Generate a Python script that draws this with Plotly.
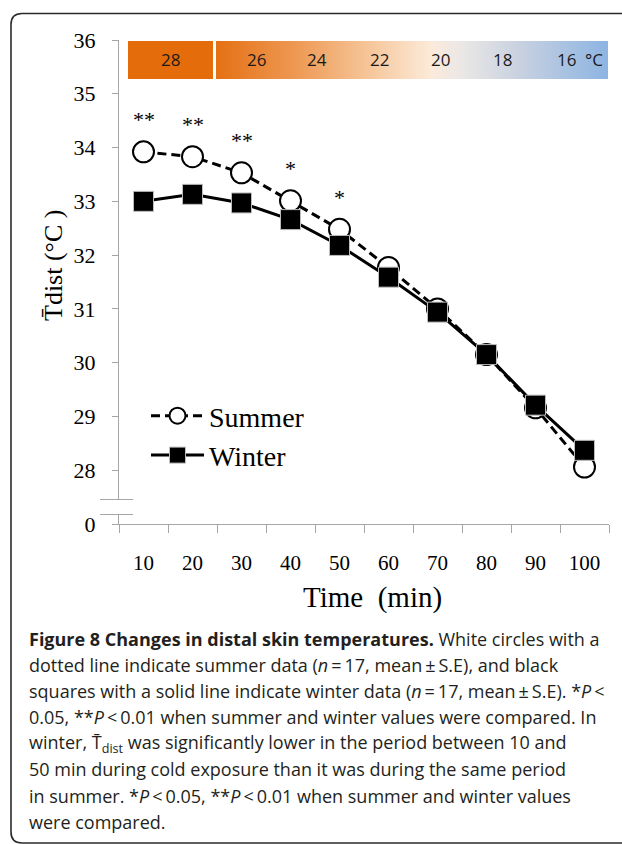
import plotly.graph_objects as go

# ---- data -------------------------------------------------------------
time_min = [10, 20, 30, 40, 50, 60, 70, 80, 90, 100]
summer = [33.92, 33.83, 33.53, 33.01, 32.48, 31.77, 31.00, 30.15, 29.16, 28.06]
winter = [33.00, 33.13, 32.97, 32.66, 32.18, 31.59, 30.94, 30.15, 29.21, 28.37]
significance = ["**", "**", "**", "*", "*", "", "", "", "", ""]

y_tickvals = [27, 28, 29, 30, 31, 32, 33, 34, 35, 36]
y_ticktext = ["0", "28", "29", "30", "31", "32", "33", "34", "35", "36"]

room_temps = ["28", "26", "24", "22", "20", "18", "16"]

caption_lines = [
    "<b>Figure 8 Changes in distal skin temperatures.</b> White circles with a",
    "dotted line indicate summer data (<i>n</i>\u2009=\u200917, mean\u2009\u00b1\u2009S.E), and black",
    "squares with a solid line indicate winter data (<i>n</i>\u2009=\u200917, mean\u2009\u00b1\u2009S.E). *<i>P</i>\u2009<",
    "0.05, **<i>P</i>\u2009<\u20090.01 when summer and winter values were compared. In",
    "winter, T\u0304<sub>dist</sub> was significantly lower in the period between 10 and",
    "50 min during cold exposure than it was during the same period",
    "in summer. *<i>P</i>\u2009<\u20090.05, **<i>P</i>\u2009<\u20090.01 when summer and winter values",
    "were compared.",
]

# ---- page geometry (pixels) -------------------------------------------
W, H = 622, 844
ML, MR, MT, MB = 119, 13, 40, 320
PW, PH = W - ML - MR, H - MT - MB


def px(x):
    return (x - ML) / PW


def py(y):
    return (H - MB - y) / PH


SERIF = "Liberation Serif"
SANS = "Open Sans"
AXIS_GREY = "#a6a6a6"

fig = go.Figure()

fig.add_trace(go.Scatter(
    x=time_min, y=summer, name="Summer", mode="lines+markers",
    line=dict(color="black", width=3, dash="9px,5px"),
    marker=dict(symbol="circle", size=21, color="white",
                line=dict(color="black", width=2)),
    legendgroup="s",
))
fig.add_trace(go.Scatter(
    x=time_min, y=winter, name="Winter", mode="lines+markers",
    line=dict(color="black", width=3),
    marker=dict(symbol="square", size=20, color="black",
                line=dict(color="#bdbdbd", width=1)),
    legendgroup="w",
))

annotations = []


def paper_text(xp, yp, text, font, **kw):
    d = dict(x=px(xp), y=py(yp), xref="paper", yref="paper", text=text,
             showarrow=False, xanchor="center", yanchor="middle", font=font)
    d.update(kw)
    return d


# significance marks above the summer points
for t, v, s in zip(time_min, summer, significance):
    if s:
        annotations.append(dict(
            x=t, y=v, xref="x", yref="y", text=s, showarrow=False,
            xanchor="center", yanchor="middle",
            yshift=32, font=dict(family=SERIF, size=22, color="black"),
        ))

# ambient temperature band across the top
shapes = []
shapes.append(dict(type="rect", xref="paper", yref="paper",
                   x0=px(128), x1=px(213), y0=py(79), y1=py(41),
                   fillcolor="#e46c0a", line=dict(width=0), layer="above"))

grad_stops = [
    (0.00, (229, 112, 20)),
    (0.20, (238, 152, 82)),
    (0.42, (247, 205, 165)),
    (0.55, (252, 234, 218)),
    (0.63, (234, 231, 230)),
    (0.76, (204, 211, 224)),
    (1.00, (141, 180, 226)),
]


def grad_color(f):
    for (f0, c0), (f1, c1) in zip(grad_stops[:-1], grad_stops[1:]):
        if f <= f1:
            u = (f - f0) / (f1 - f0)
            return "rgb(%d,%d,%d)" % tuple(round(a + (b - a) * u) for a, b in zip(c0, c1))
    return "rgb(%d,%d,%d)" % grad_stops[-1][1]


g0, g1 = 216, 608
step = 2
xpix = g0
while xpix < g1:
    f = (xpix + step / 2 - g0) / (g1 - g0)
    shapes.append(dict(type="rect", xref="paper", yref="paper",
                       x0=px(xpix), x1=px(min(xpix + step + 0.6, g1)),
                       y0=py(79), y1=py(41),
                       fillcolor=grad_color(f), line=dict(width=0), layer="above"))
    xpix += step

band_font = dict(family=SANS, size=17, color="#1a1a1a")
band_label_px = [170, 256, 317, 379, 440, 502, 566]
for lab, xp in zip(room_temps, band_label_px):
    annotations.append(paper_text(xp, 60, lab, band_font))
annotations.append(paper_text(594, 59, "\u00b0C", band_font))

# axis break on the y axis
shapes.append(dict(type="rect", xref="paper", yref="paper",
                   x0=px(117), x1=px(121.5), y0=py(514.5), y1=py(499.5),
                   fillcolor="white", line=dict(width=0), layer="above"))
for yb in (499.5, 514.5):
    shapes.append(dict(type="line", xref="paper", yref="paper",
                       x0=px(100), x1=px(133), y0=py(yb), y1=py(yb),
                       line=dict(color=AXIS_GREY, width=1.2), layer="above"))

# rounded frame around the figure
frame = (f"M {px(640)},{py(13.5)} L {px(22)},{py(13.5)} "
         f"Q {px(11)},{py(13.5)} {px(11)},{py(24.5)} "
         f"L {px(11)},{py(832)} Q {px(11)},{py(843)} {px(22)},{py(843)} "
         f"L {px(640)},{py(843)}")
shapes.append(dict(type="path", xref="paper", yref="paper", path=frame,
                   line=dict(color="#2b2b2b", width=1.6), layer="above"))

# axis titles
annotations.append(paper_text(372, 597, "Time\u00a0\u00a0(min)",
                              dict(family=SERIF, size=29, color="black")))
annotations.append(paper_text(53, 265, "T\u0304dist (\u00b0C )",
                              dict(family=SERIF, size=26, color="black"),
                              textangle=-90))

# caption
cap_font = dict(family=SANS, size=18, color="#231f20")
cap_y = [638.7, 664.8, 690.9, 717.0, 743.2, 769.4, 795.6, 821.8]
for line, yc in zip(caption_lines, cap_y):
    annotations.append(paper_text(27, yc, line, cap_font,
                                  xanchor="left", align="left"))

fig.update_layout(
    width=W, height=H,
    margin=dict(l=ML, r=MR, t=MT, b=MB, pad=0),
    paper_bgcolor="white", plot_bgcolor="white",
    showlegend=True,
    legend=dict(x=px(146), y=py(391), xanchor="left", yanchor="top",
                font=dict(family=SERIF, size=28, color="black"),
                bgcolor="rgba(0,0,0,0)", itemwidth=53, tracegroupgap=7,
                traceorder="normal"),
    xaxis=dict(range=[5, 105], tickvals=time_min, ticks="",
               showline=True, linecolor=AXIS_GREY, linewidth=1,
               showgrid=False, zeroline=False,
               tickfont=dict(family=SERIF, size=21, color="black"),
               ticklabelstandoff=20,
               minor=dict(tick0=5, dtick=10, ticks="outside", ticklen=8,
                          tickcolor=AXIS_GREY, tickwidth=1, showgrid=False)),
    yaxis=dict(range=[27, 36], tickvals=y_tickvals, ticktext=y_ticktext,
               ticks="outside", ticklen=6, tickcolor=AXIS_GREY,
               showline=True, linecolor=AXIS_GREY, linewidth=1,
               showgrid=False, zeroline=False,
               tickfont=dict(family=SERIF, size=22, color="black"),
               ticklabelstandoff=12),
    annotations=annotations,
    shapes=shapes,
)

fig.write_html("out.html")
